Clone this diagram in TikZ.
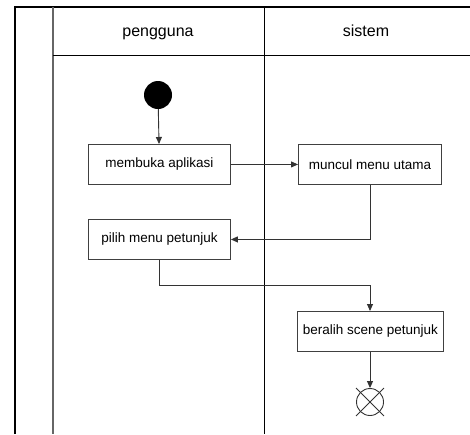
\documentclass[tikz,border=0pt]{standalone}
\usepackage{fontspec}
\setmainfont{Liberation Sans}
\usetikzlibrary{arrows.meta,shapes.misc}
\begin{document}
\begin{tikzpicture}[x=1pt,y=-1pt,
  lane/.style={line width=1pt,draw=black},
  act/.style={draw=black!75,line width=0.9pt,minimum width=142pt,minimum height=40pt,
    inner sep=0pt,font=\fontsize{13.5}{15}\selectfont,anchor=north west},
  flow/.style={draw=black!80,line width=0.9pt,-{Triangle[length=7pt,width=6pt]}},
  head/.style={font=\fontsize{16}{18}\selectfont,anchor=base}]
\useasboundingbox (0,0) rectangle (470,434);
% swimlane frame
\draw[lane,line width=1.5pt] (15,434) -- (15,7) -- (470,7);
\draw[lane,draw=black!60,line width=1.3pt] (53,7) -- (53,434);
\draw[lane] (264,7) -- (264,434);
\draw[lane] (53,55) -- (470,55);
\node[head] (h1) at (158,36) {pengguna};
\node[head] (h2) at (366,36) {sistem};
% activities
\node[circle,fill=black,minimum size=28pt,inner sep=0pt] (start) at (158,95) {};
\node[act] (buka) at (88,144) {membuka aplikasi};
\node[act,minimum width=143pt] (menu) at (298,144) {muncul menu utama};
\node[act] (pilih) at (88,219) {pilih menu petunjuk};
\node[act,minimum width=146pt] (scene) at (297,311) {beralih scene petunjuk};
\node[circle,draw=black!80,line width=0.9pt,minimum size=27pt,inner sep=0pt,cross out] (end) at (370,402) {};
\node[circle,draw=black!80,line width=0.9pt,minimum size=27pt,inner sep=0pt] (endc) at (370,402) {};
% control flow
\draw[flow] (start) -- (buka);
\draw[flow] (buka) -- (menu);
\draw[flow] (menu.south -| 370,0) |- (pilih.east);
\coordinate (bend) at (370,285);
\draw[flow] (pilih.south) |- (bend) -- (scene.north -| bend);
\draw[flow] (scene.south -| end) -- (endc.north);
\end{tikzpicture}
\end{document}
